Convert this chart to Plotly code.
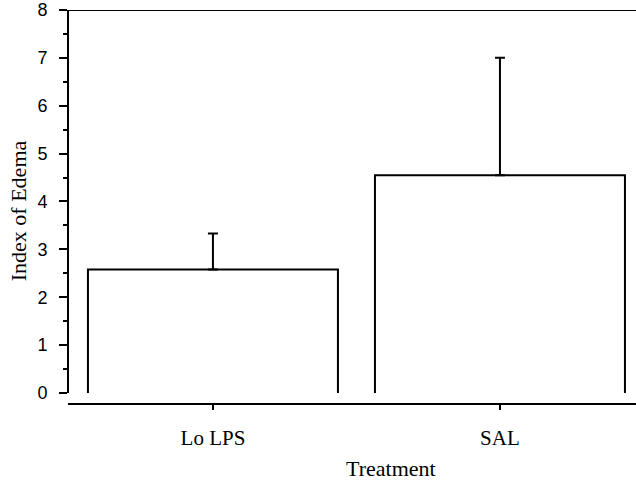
import plotly.graph_objects as go

categories = ["Lo LPS", "SAL"]
means = [2.58, 4.55]
errors = [0.75, 2.45]
y_ticks = [0, 1, 2, 3, 4, 5, 6, 7, 8]

bar_w = 0.871
xs = list(range(len(categories)))

fig = go.Figure()
for i, m in zip(xs, means):
    fig.add_trace(go.Scatter(
        x=[i - bar_w / 2, i - bar_w / 2, i + bar_w / 2, i + bar_w / 2],
        y=[0, m, m, 0], mode="lines",
        line=dict(color="black", width=2), hoverinfo="skip", showlegend=False))

fig.add_trace(go.Scatter(
    x=xs, y=means, mode="markers", marker=dict(size=1, color="rgba(0,0,0,0)"),
    error_y=dict(type="data", symmetric=False, array=errors, arrayminus=[0] * len(errors),
                 color="black", thickness=2, width=5),
    showlegend=False))

fig.add_shape(type="line", xref="paper", yref="y", x0=0, x1=0, y0=0, y1=8,
              line=dict(color="black", width=2))
fig.add_shape(type="line", xref="paper", yref="y", x0=0, x1=1, y0=8, y1=8,
              line=dict(color="black", width=2))

fig.add_annotation(text="Index of Edema", xref="paper", yref="paper", x=-0.088, y=0.488,
                   textangle=-90, showarrow=False, xanchor="center", yanchor="middle",
                   font=dict(family="Liberation Serif", size=22, color="black"))
fig.add_annotation(text="Treatment", xref="x", yref="paper", x=0.62, y=-0.13,
                   showarrow=False, xanchor="center", yanchor="top",
                   font=dict(family="Liberation Serif", size=22, color="black"))

fig.update_layout(
    width=636, height=487,
    margin=dict(l=68, r=0, t=10, b=84, autoexpand=False),
    plot_bgcolor="white", paper_bgcolor="white",
    xaxis=dict(range=[-0.505, 1.474], tickvals=xs, ticktext=categories,
               showline=True, linecolor="black", linewidth=2, automargin=False,
               ticks="outside", ticklen=5, tickwidth=1.5, tickcolor="black",
               showgrid=False, zeroline=False, ticklabelstandoff=10,
               tickfont=dict(family="Liberation Serif", size=21, color="black")),
    yaxis=dict(range=[-0.21, 8], tickvals=y_ticks, showline=False, automargin=False,
               ticks="outside", ticklen=8, tickwidth=2, tickcolor="black",
               minor=dict(dtick=0.5, ticks="outside", ticklen=4, tickwidth=2, tickcolor="black"),
               showgrid=False, zeroline=False, ticklabelstandoff=8,
               tickfont=dict(family="Liberation Sans", size=18, color="black")),
)

fig.write_html("out.html", config={"displayModeBar": False},
               post_script="document.body.style.margin='0';document.body.style.overflow='hidden';")
